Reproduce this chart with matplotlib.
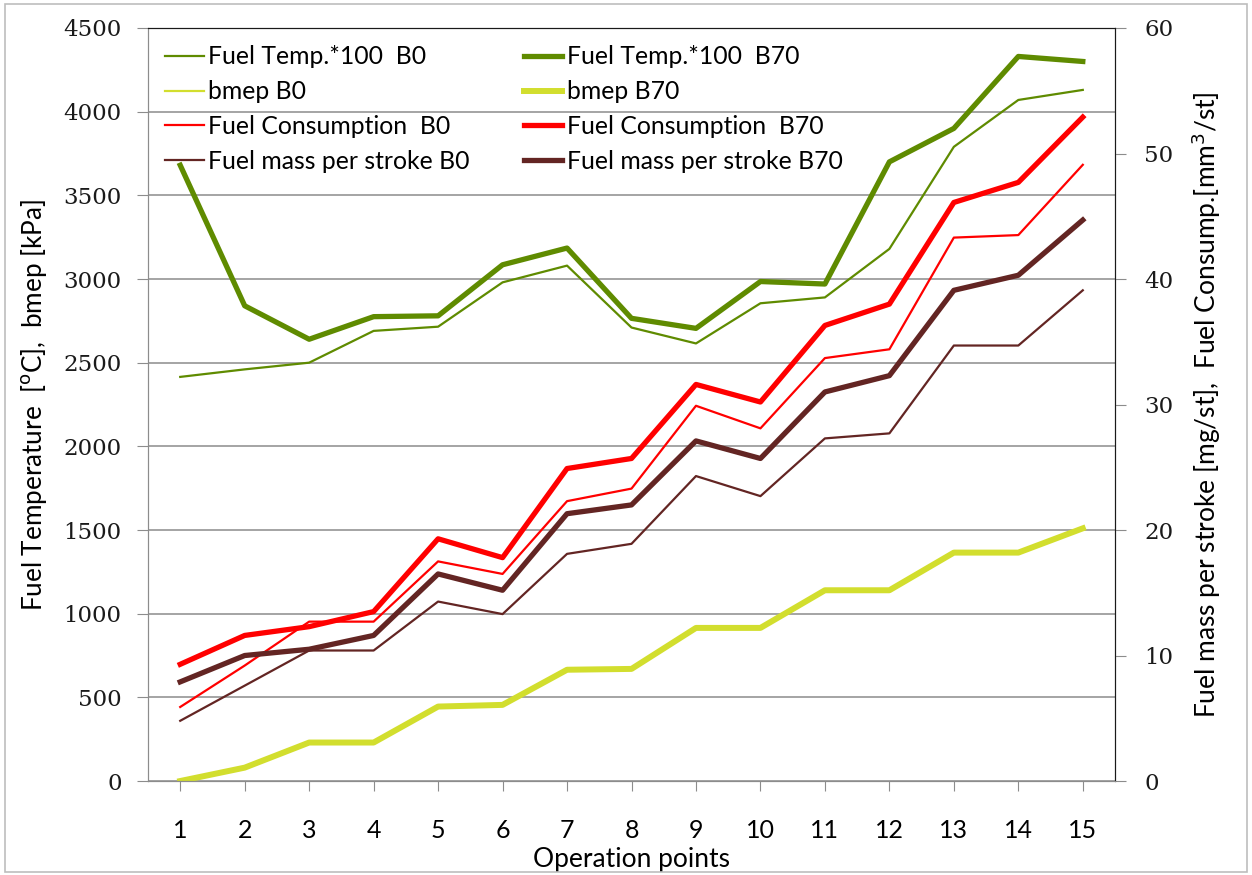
import numpy as np
import matplotlib
matplotlib.use("Agg")
import matplotlib.pyplot as plt
from matplotlib.patches import Rectangle

# ---------------------------------------------------------------------------
# Data
# ---------------------------------------------------------------------------
points = np.arange(1, 16)

fuel_temp_b0 = [2415, 2460, 2500, 2690, 2715, 2980, 3080, 2710, 2615, 2855,
                2890, 3180, 3790, 4070, 4130]
fuel_temp_b70 = [3680, 2840, 2640, 2775, 2780, 3085, 3185, 2765, 2705, 2985,
                 2970, 3700, 3900, 4330, 4300]
bmep_b0 = [0, 80, 230, 230, 445, 455, 665, 670, 915, 915, 1140, 1140, 1365, 1365, 1510]
bmep_b70 = [0, 80, 230, 230, 445, 455, 665, 670, 915, 915, 1140, 1140, 1365, 1365, 1510]

fuel_cons_b0 = [5.9, 9.2, 12.7, 12.7, 17.5, 16.5, 22.3, 23.3, 29.9, 28.1,
                33.7, 34.4, 43.3, 43.5, 49.1]
fuel_cons_b70 = [9.3, 11.6, 12.3, 13.5, 19.3, 17.8, 24.9, 25.7, 31.6, 30.2,
                 36.3, 38.0, 46.1, 47.7, 52.9]
fuel_mass_b0 = [4.8, 7.6, 10.4, 10.4, 14.3, 13.3, 18.1, 18.9, 24.3, 22.7,
                27.3, 27.7, 34.7, 34.7, 39.1]
fuel_mass_b70 = [7.9, 10.0, 10.5, 11.6, 16.5, 15.2, 21.3, 22.0, 27.1, 25.7,
                 31.0, 32.3, 39.1, 40.3, 44.7]

left_ticks = np.arange(0, 4501, 500)
right_ticks = np.arange(0, 61, 10)

# ---------------------------------------------------------------------------
# Styling
# ---------------------------------------------------------------------------
GREEN = "#5f8b00"
LIME = "#d2de2e"
RED = "#ff0000"
BROWN = "#632523"
GRID = "#8c8c8c"
TEXT_FONT = ["Lato", "DejaVu Sans"]
NUM_FONT = "DejaVu Serif"

fig = plt.figure(figsize=(12.52, 8.75), dpi=100)
ax = fig.add_axes([0.1182, 0.1074, 0.7724, 0.8606])
ax2 = ax.twinx()

thin, thick = 1.6, 3.8

l1, = ax.plot(points, fuel_temp_b0, color=GREEN, lw=thin, label="Fuel Temp.*100  B0")
l5, = ax.plot(points, fuel_temp_b70, color=GREEN, lw=thick, label="Fuel Temp.*100  B70")
l2, = ax.plot(points, bmep_b0, color=LIME, lw=thin, label="bmep B0")
l6, = ax.plot(points, bmep_b70, color=LIME, lw=4.3, label="bmep B70")

l3, = ax2.plot(points, fuel_cons_b0, color=RED, lw=thin, label="Fuel Consumption  B0")
l7, = ax2.plot(points, fuel_cons_b70, color=RED, lw=thick, label="Fuel Consumption  B70")
l4, = ax2.plot(points, fuel_mass_b0, color=BROWN, lw=thin, label="Fuel mass per stroke B0")
l8, = ax2.plot(points, fuel_mass_b70, color=BROWN, lw=thick, label="Fuel mass per stroke B70")

ax.set_xlim(0.5, 15.5)
ax.set_ylim(0, 4500)
ax2.set_ylim(0, 60)
ax.set_yticks(left_ticks)
ax2.set_yticks(right_ticks)
ax.set_xticks(points)

ax.grid(axis="y", color=GRID, lw=1.1)
ax.set_axisbelow(True)

for a in (ax, ax2):
    for side in ("left", "bottom"):
        a.spines[side].set_color(GRID)
    for side in ("top", "right"):
        a.spines[side].set_color("#1a1a1a")

ax.tick_params(axis="y", length=8, color=GRID, pad=11, labelsize=16.5)
ax2.tick_params(axis="y", length=8, color=GRID, pad=13, labelsize=16.5)
ax.tick_params(axis="x", length=7, color=GRID, pad=20, labelsize=18)
for lab in ax.get_yticklabels() + ax2.get_yticklabels():
    lab.set_family(NUM_FONT)
    lab.set_color("#1a1a1a")
for lab in ax.get_xticklabels():
    lab.set_family(TEXT_FONT)

ax.set_xlabel("Operation points", family=TEXT_FONT, fontsize=19, labelpad=4)
ax.set_ylabel("Fuel Temperature  [$^{\\rm o}$C],  bmep [kPa]", family=TEXT_FONT,
              fontsize=18.8, labelpad=10)
ax2.set_ylabel("Fuel mass per stroke [mg/st],  Fuel Consump.[mm$^3$/st]",
               family=TEXT_FONT, fontsize=19, labelpad=12)

handles = [l1, l2, l3, l4, l5, l6, l7, l8]
ax2.legend(handles=handles, loc="upper left", bbox_to_anchor=(0.0, 1.0), ncol=2,
           frameon=False, prop={"family": TEXT_FONT, "size": 17.8},
           handlelength=1.55, handletextpad=0.18, columnspacing=2.2,
           labelspacing=0.48, borderaxespad=0.3)

# outer figure border
fig.patches.append(Rectangle((0.004, 0.004), 0.992, 0.992, transform=fig.transFigure,
                             fill=False, edgecolor="#bdbdbd", lw=1.2))

fig.savefig("out.png", dpi=100)
